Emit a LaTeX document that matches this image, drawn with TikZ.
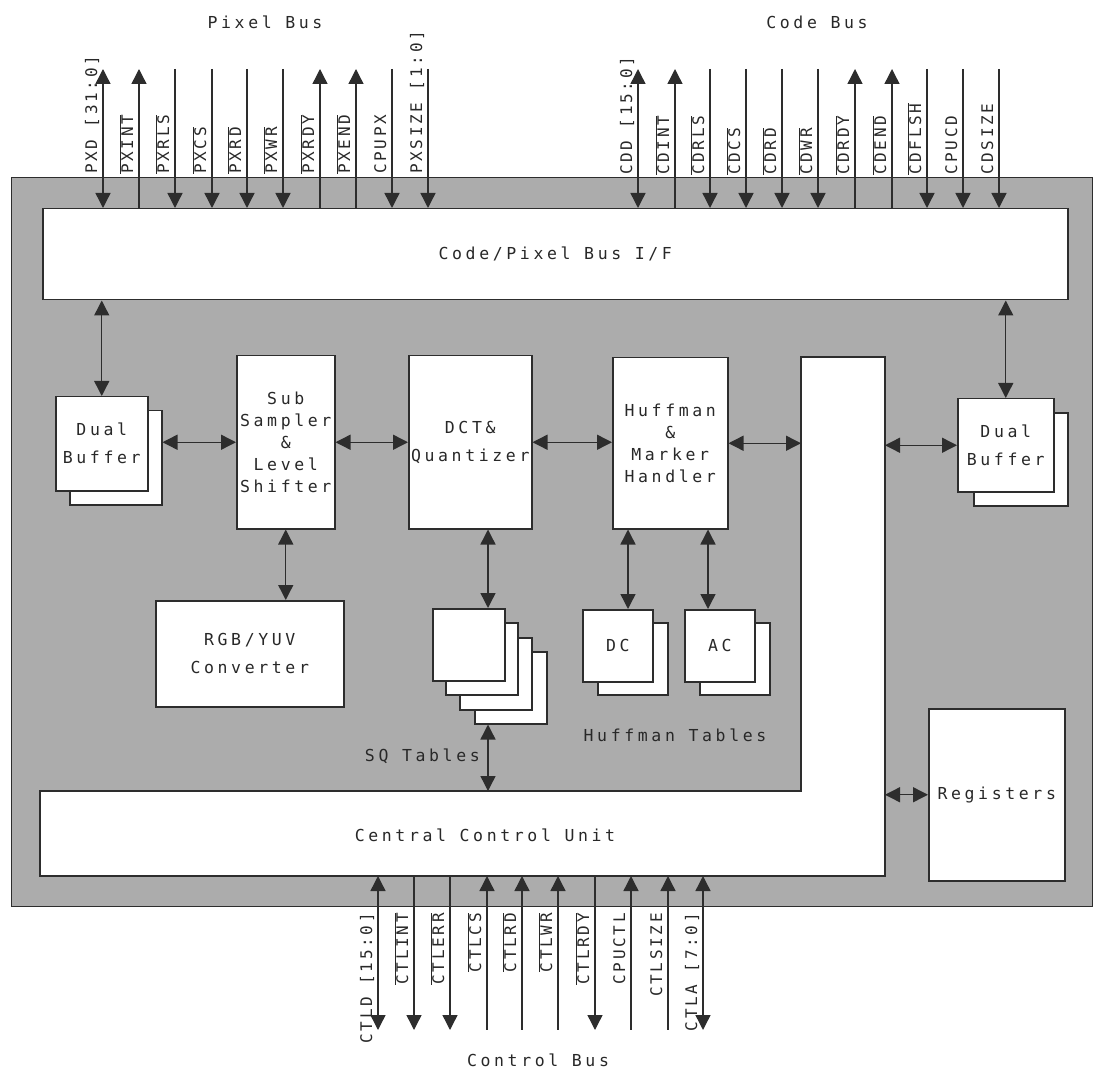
\documentclass[tikz,border=0pt]{standalone}
\usepackage{fontspec}
\usetikzlibrary{arrows.meta}
\newfontfamily\dfont[LetterSpace=22]{DejaVu Sans Mono}
\newfontfamily\pfont[LetterSpace=17]{DejaVu Sans Mono}
\definecolor{chipgrey}{RGB}{172,172,172}
\definecolor{lc}{RGB}{45,45,45}
\definecolor{tc}{RGB}{40,40,40}
\newcommand\ovl[1]{$\overline{\hbox{#1}}$}
\begin{document}
\begin{tikzpicture}[x=1pt,y=-1pt,
  txt/.style={font=\dfont\fontsize{16.5}{22}\selectfont, text=tc, inner sep=0pt},
  blk/.style={txt, draw=lc, fill=white, line width=1.5pt, align=center, anchor=north west},
  ghost/.style={inner sep=0pt, outer sep=0pt, anchor=north west},
  con/.style={draw=lc, line width=1.4pt},
  hs/.style={{Triangle[length=15pt,width=15pt]}-},
  he/.style={-{Triangle[length=15pt,width=15pt]}},
  hb/.style={{Triangle[length=15pt,width=15pt]}-{Triangle[length=15pt,width=15pt]}},
  lab/.style={font=\pfont\fontsize{16}{20}\selectfont, text=tc, inner sep=0pt, rotate=90}]
\useasboundingbox (0,0) rectangle (1093,1075);
% chip body
\node[draw=lc, fill=chipgrey, line width=1pt, ghost, minimum width=1081pt, minimum height=728pt] (chip) at (11,178) {};
% bus interface
\node[blk, minimum width=1025pt, minimum height=91pt] (iff) at (42,208) {Code/Pixel Bus I/F};
% left dual buffer
\node[blk, minimum width=92pt, minimum height=94pt] (db1b) at (69,410) {};
\node[blk, minimum width=92pt, minimum height=94pt] (db1) at (55,396) {Dual\\[6pt]Buffer};
% processing blocks
\node[blk, minimum width=98pt, minimum height=173pt] (sub) at (236,355) {Sub\\Sampler\\\&\\Level\\Shifter};
\node[blk, minimum width=123pt, minimum height=173pt] (dct) at (408,355) {DCT\&\\[6pt]Quantizer};
\node[blk, minimum width=115pt, minimum height=171pt] (huf) at (612,357) {Huffman\\\&\\Marker\\Handler};
% right dual buffer
\node[blk, minimum width=94pt, minimum height=93pt] (db2b) at (973,412) {};
\node[blk, minimum width=96pt, minimum height=93pt] (db2) at (957,398) {Dual\\[6pt]Buffer};
% converter
\node[blk, minimum width=188pt, minimum height=106pt] (rgb) at (155,600) {RGB/YUV\\[6pt]Converter};
% SQ tables
\node[blk, minimum width=72pt, minimum height=72pt] (sq4) at (474,651) {};
\node[blk, minimum width=72pt, minimum height=72pt] (sq3) at (459,637) {};
\node[blk, minimum width=72pt, minimum height=72pt] (sq2) at (445,622) {};
\node[blk, minimum width=72pt, minimum height=72pt] (sq1) at (432,608) {};
% Huffman tables
\node[blk, minimum width=70pt, minimum height=72pt] (dcb) at (597,622) {};
\node[blk, minimum width=70pt, minimum height=72pt] (dc) at (582,609) {DC};
\node[blk, minimum width=70pt, minimum height=72pt] (acb) at (699,622) {};
\node[blk, minimum width=70pt, minimum height=72pt] (ac) at (684,609) {AC};
% registers
\node[blk, minimum width=136pt, minimum height=172pt] (reg) at (928,708) {Registers};
% central control unit (L shape)
\node[ghost, minimum width=84pt, minimum height=519pt] (ccuv) at (801,357) {};
\node[ghost, minimum width=845pt, minimum height=85pt] (ccuh) at (40,791) {};
\draw[draw=lc, fill=white, line width=1.5pt] (ccuh.north west) -- (ccuh.north west -| ccuv.west) -- (ccuv.north west) -- (ccuv.north east) -- (ccuh.south east) -- (ccuh.south west) -- cycle;
\node[txt] (ccut) at (485,835) {Central Control Unit};
% table captions
\node[txt, anchor=east] (sqt) at (480,756) {SQ Tables};
\node[txt] (hft) at (675,735) {Huffman Tables};
% internal connectors
\draw[con, hb] (db1.north |- iff.south) -- (db1.north);
\draw[con, hb] (db1b.east |- sub.west) -- (sub.west);
\draw[con, hb] (sub.east) -- (dct.west);
\draw[con, hb] (dct.east) -- (huf.west |- dct.east);
\draw[con, hb] (huf.east) -- (ccuv.west |- huf.east);
\draw[con, hb] (ccuv.east |- db2.west) -- (db2.west);
\draw[con, hb] (iff.south -| db2.north) -- (db2.north);
\draw[con, hb] (sub.south) -- (rgb.north -| sub.south);
\coordinate (sqx) at (488,0);
\draw[con, hb] (dct.south -| sqx) -- (sq1.north -| sqx);
\draw[con, hb] (sq4.south -| sqx) -- (ccuh.north -| sqx);
\coordinate (dcx) at (628,0);
\coordinate (acx) at (708,0);
\draw[con, hb] (huf.south -| dcx) -- (dc.north -| dcx);
\draw[con, hb] (huf.south -| acx) -- (ac.north -| acx);
\draw[con, hb] (ccuv.east |- reg.west) -- (reg.west);
% bus titles
\node[txt] (pxbus) at (265,22) {Pixel Bus};
\node[txt] (cdbus) at (817,22) {Code Bus};
\node[txt] (ctlbus) at (538,1060) {Control Bus};
% pixel bus pins
\foreach \x/\t/\k in {103/{PXD [31:0]}/hb, 139/{\ovl{PXINT}}/hs, 175/{\ovl{PXRLS}}/he, 212/{\ovl{PXCS}}/he, 247/{\ovl{PXRD}}/he, 283/{\ovl{PXWR}}/he, 320/{\ovl{PXRDY}}/hs, 356/{\ovl{PXEND}}/hs, 392/{CPUPX}/he, 428/{PXSIZE [1:0]}/he}{
  \coordinate (pt\x) at (\x,69);
  \draw[con,\k] (pt\x) -- (pt\x |- iff.north);
  \node[lab, anchor=base west] (lt\x) at (\x-6,174) {\t};
}
% code bus pins
\foreach \x/\t/\k in {638/{CDD [15:0]}/hb, 675/{\ovl{CDINT}}/hs, 710/{\ovl{CDRLS}}/he, 746/{\ovl{CDCS}}/he, 782/{\ovl{CDRD}}/he, 818/{\ovl{CDWR}}/he, 855/{\ovl{CDRDY}}/hs, 892/{\ovl{CDEND}}/hs, 927/{\ovl{CDFLSH}}/he, 963/{CPUCD}/he, 999/{CDSIZE}/he}{
  \coordinate (pt\x) at (\x,69);
  \draw[con,\k] (pt\x) -- (pt\x |- iff.north);
  \node[lab, anchor=base west] (lt\x) at (\x-6,175) {\t};
}
% control bus pins
\foreach \x/\t/\k in {378/{CTLD [15:0]}/hb, 414/{\ovl{CTLINT}}/he, 450/{\ovl{CTLERR}}/he, 487/{\ovl{CTLCS}}/hs, 522/{\ovl{CTLRD}}/hs, 558/{\ovl{CTLWR}}/hs, 595/{\ovl{CTLRDY}}/he, 631/{CPUCTL}/hs, 668/{CTLSIZE}/hs, 703/{CTLA [7:0]}/hb}{
  \coordinate (pb\x) at (\x,1030);
  \draw[con,\k] (pb\x |- ccuh.south) -- (pb\x);
  \node[lab, anchor=base east] (lb\x) at (\x-6,913) {\t};
}
\end{tikzpicture}
\end{document}
